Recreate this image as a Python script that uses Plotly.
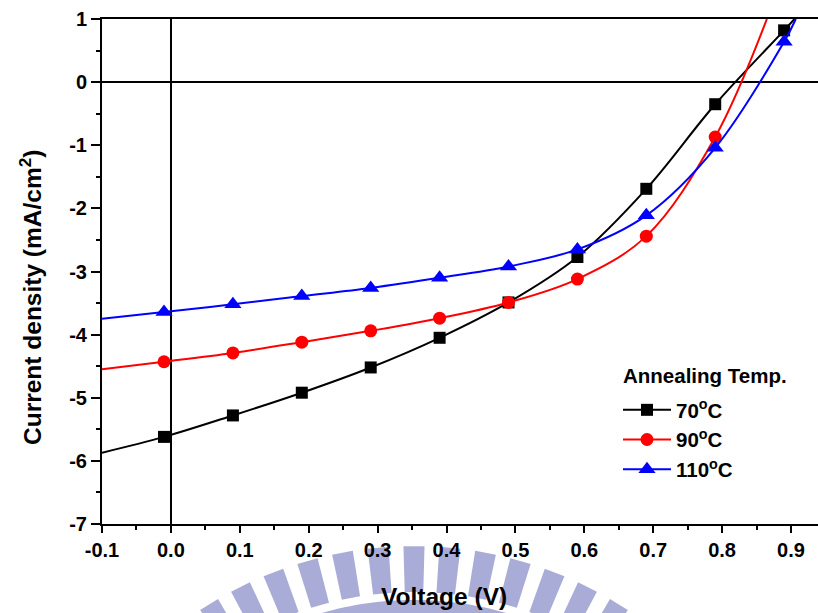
import numpy as np
import plotly.graph_objects as go

# ---- J-V data (voltage in V, current density in mA/cm^2) ----
volt = [-0.01, 0.09, 0.19, 0.29, 0.39, 0.49, 0.59, 0.69, 0.79, 0.89]
j_70 = [-5.62, -5.28, -4.92, -4.52, -4.05, -3.49, -2.77, -1.69, -0.35, 0.82]
j_90 = [-4.43, -4.29, -4.12, -3.94, -3.74, -3.49, -3.12, -2.44, -0.87]
j_110 = [-3.64, -3.52, -3.39, -3.26, -3.10, -2.92, -2.65, -2.11, -1.04, 0.64]

# fitted curves: value at the left edge, the measured points, and where each leaves the top
fit_70_x = [-0.10] + volt + [0.905]
fit_70_y = [-5.87] + j_70 + [1.0]
fit_90_x = [-0.10] + volt[:len(j_90)] + [0.865]
fit_90_y = [-4.55] + j_90 + [1.0]
fit_110_x = [-0.10] + volt + [0.907]
fit_110_y = [-3.75] + j_110 + [1.0]

x_ticks = [-0.1, 0.0, 0.1, 0.2, 0.3, 0.4, 0.5, 0.6, 0.7, 0.8, 0.9]
x_ticklabels = ["-0.1", "0.0", "0.1", "0.2", "0.3", "0.4", "0.5", "0.6", "0.7", "0.8", "0.9"]
y_ticks = [-7, -6, -5, -4, -3, -2, -1, 0, 1]
y_ticklabels = ["-7", "-6", "-5", "-4", "-3", "-2", "-1", "0", "1"]

legend_title = "Annealing Temp."
labels = ["70<sup>o</sup>C", "90<sup>o</sup>C", "110<sup>o</sup>C"]
colors = ["#000000", "#ff0000", "#0000ff"]
symbols = ["square", "circle", "triangle-up"]
sizes = [12, 13, 15]

FONT = "Liberation Sans, Arial, sans-serif"
W, H = 818, 613
L, R, T, B = 102, 0, 19, 89
PW, PH = W - L - R, H - T - B

series = [
    (fit_70_x, fit_70_y, volt, j_70),
    (fit_90_x, fit_90_y, volt[:len(j_90)], j_90),
    (fit_110_x, fit_110_y, volt, j_110),
]

fig = go.Figure()
for i, (fx, fy, mx, my) in enumerate(series):
    fig.add_trace(go.Scatter(
        x=fx, y=fy, mode="lines", line=dict(color=colors[i], width=2, shape="spline", smoothing=1),
        showlegend=False, hoverinfo="skip"))
    fig.add_trace(go.Scatter(
        x=mx, y=my, mode="markers",
        marker=dict(symbol=symbols[i], size=sizes[i], color=colors[i], line=dict(width=0)),
        showlegend=False))
# legend entries (line + symbol)
for i in range(3):
    fig.add_trace(go.Scatter(
        x=[None], y=[None], mode="lines+markers", name=labels[i], legendgroup=f"g{i}",
        line=dict(color=colors[i], width=2),
        marker=dict(symbol=symbols[i], size=sizes[i], color=colors[i])))


def to_paper(px, py):
    return (px - L) / PW, (H - B - py) / PH


# university logo watermark below the axis: ring of radial bars plus an arc band
WM = "#a9acd6"
cx, cy = 414.0, 935.0
shapes = []
half = np.radians(1.55)
for k in range(-8, 9):
    th = np.radians(k * 5.3)
    pts = []
    for r, a in [(389, th - half), (389, th + half), (343, th + half), (343, th - half)]:
        pts.append(to_paper(cx + r * np.sin(a), cy - r * np.cos(a)))
    path = "M " + " L ".join(f"{x:.5f},{y:.5f}" for x, y in pts) + " Z"
    shapes.append(dict(type="path", path=path, xref="paper", yref="paper",
                       fillcolor=WM, line=dict(width=0), layer="below"))
angs = np.radians(np.linspace(-45, 45, 91))
outer = [to_paper(cx + 335 * np.sin(a), cy - 335 * np.cos(a)) for a in angs]
inner = [to_paper(cx + 290 * np.sin(a), cy - 290 * np.cos(a)) for a in angs[::-1]]
path = "M " + " L ".join(f"{x:.5f},{y:.5f}" for x, y in outer + inner) + " Z"
shapes.append(dict(type="path", path=path, xref="paper", yref="paper",
                   fillcolor=WM, line=dict(width=0), layer="below"))

tick_font = dict(family=FONT, size=20, color="black", weight="bold")

fig.update_layout(
    width=W, height=H,
    margin=dict(l=L, r=R, t=T, b=B, pad=0),
    paper_bgcolor="white", plot_bgcolor="white",
    font=dict(family=FONT, color="black"),
    shapes=shapes,
    showlegend=True,
    legend=dict(
        x=to_paper(618, 0)[0], y=to_paper(0, 390)[1], xanchor="left", yanchor="top",
        bgcolor="rgba(0,0,0,0)", borderwidth=0,
        font=dict(family=FONT, size=20.5, weight="bold"),
        traceorder="grouped", tracegroupgap=0, itemwidth=48,
    ),
    xaxis=dict(
        range=[-0.1, -0.1 + PW / 689.0],
        tickmode="array", tickvals=x_ticks, ticktext=x_ticklabels,
        ticks="outside", ticklen=7, tickwidth=2, tickcolor="black",
        minor=dict(tickmode="linear", tick0=0, dtick=0.05, ticks="outside",
                   ticklen=4, tickwidth=2, tickcolor="black", showgrid=False),
        showline=True, linewidth=2, linecolor="black", mirror=True,
        showgrid=False, zeroline=True, zerolinecolor="black", zerolinewidth=1.5,
        tickfont=tick_font, ticklabelstandoff=0,
    ),
    yaxis=dict(
        range=[-7, 1],
        tickmode="array", tickvals=y_ticks, ticktext=y_ticklabels,
        ticks="outside", ticklen=9, tickwidth=2, tickcolor="black",
        minor=dict(tickmode="linear", tick0=0, dtick=0.5, ticks="outside",
                   ticklen=4, tickwidth=2, tickcolor="black", showgrid=False),
        showline=True, linewidth=2, linecolor="black", mirror=False,
        showgrid=False, zeroline=True, zerolinecolor="black", zerolinewidth=1.5,
        tickfont=tick_font, ticklabelstandoff=0,
    ),
    annotations=[
        dict(text=legend_title, x=to_paper(621, 0)[0], y=to_paper(0, 375)[1],
             xref="paper", yref="paper", xanchor="left", yanchor="middle", showarrow=False,
             font=dict(family=FONT, size=20.5, weight="bold", color="black")),
        dict(text="Voltage (V)", x=to_paper(444, 0)[0], y=to_paper(0, 596)[1],
             xref="paper", yref="paper", xanchor="center", yanchor="middle", showarrow=False,
             font=dict(family=FONT, size=24.5, weight="bold", color="black")),
        dict(text="Current density (mA/cm<sup>2</sup>)", x=to_paper(30, 0)[0], y=to_paper(0, 298)[1],
             xref="paper", yref="paper", xanchor="center", yanchor="middle", showarrow=False,
             textangle=-90, font=dict(family=FONT, size=24.5, weight="bold", color="black")),
    ],
)

fig.write_html("out.html")
